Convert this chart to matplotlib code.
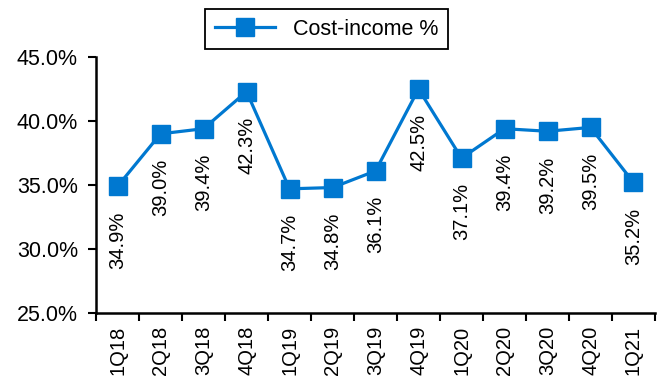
import matplotlib
matplotlib.use("Agg")
import matplotlib.pyplot as plt
from matplotlib.ticker import FuncFormatter

# data
quarters = ['1Q18', '2Q18', '3Q18', '4Q18', '1Q19', '2Q19', '3Q19',
            '4Q19', '1Q20', '2Q20', '3Q20', '4Q20', '1Q21']
cost_income = [34.9, 39.0, 39.4, 42.3, 34.7, 34.8, 36.1,
               42.5, 37.1, 39.4, 39.2, 39.5, 35.2]

blue = '#0078D0'
plt.rcParams['font.family'] = ['Liberation Sans', 'DejaVu Sans']

fig = plt.figure(figsize=(6.67, 3.83), dpi=100)
ax = fig.add_axes([0.144, 0.183, 0.838, 0.668])

x = list(range(len(quarters)))
ax.plot(x, cost_income, color=blue, lw=2.3, marker='s', markersize=12.5,
        label='Cost-income %')

for xi, v in zip(x, cost_income):
    ax.annotate('%.1f%%' % v, (xi, v), xytext=(0, -18), textcoords='offset points',
                ha='center', va='top', rotation=90, fontsize=14.5)

ax.set_xlim(-0.5, len(quarters) - 0.5)
ax.set_ylim(25, 45)
ax.set_yticks([25, 30, 35, 40, 45])
ax.yaxis.set_major_formatter(FuncFormatter(lambda v, p: '%.1f%%' % v))

# ticks between categories, labels at centres
ax.set_xticks([i - 0.5 for i in range(len(quarters) + 1)])
ax.set_xticklabels([])
ax.set_xticks(x, minor=True)
ax.set_xticklabels(quarters, minor=True, rotation=90, fontsize=14.5)
ax.tick_params(axis='x', which='minor', length=0, pad=9)
ax.tick_params(axis='x', which='major', length=6, width=1.5)
ax.tick_params(axis='y', length=6, width=1.5, labelsize=15.5, pad=7)

for s in ['top', 'right']:
    ax.spines[s].set_visible(False)
for s in ['left', 'bottom']:
    ax.spines[s].set_linewidth(1.8)

leg = fig.legend(loc='center', bbox_to_anchor=(0.4895, 0.924), fontsize=15.5,
                 fancybox=False, edgecolor='black', framealpha=1,
                 borderpad=0.45, handlelength=2.8, borderaxespad=0)
leg.get_frame().set_linewidth(1.3)

fig.savefig('out.png', dpi=100)
